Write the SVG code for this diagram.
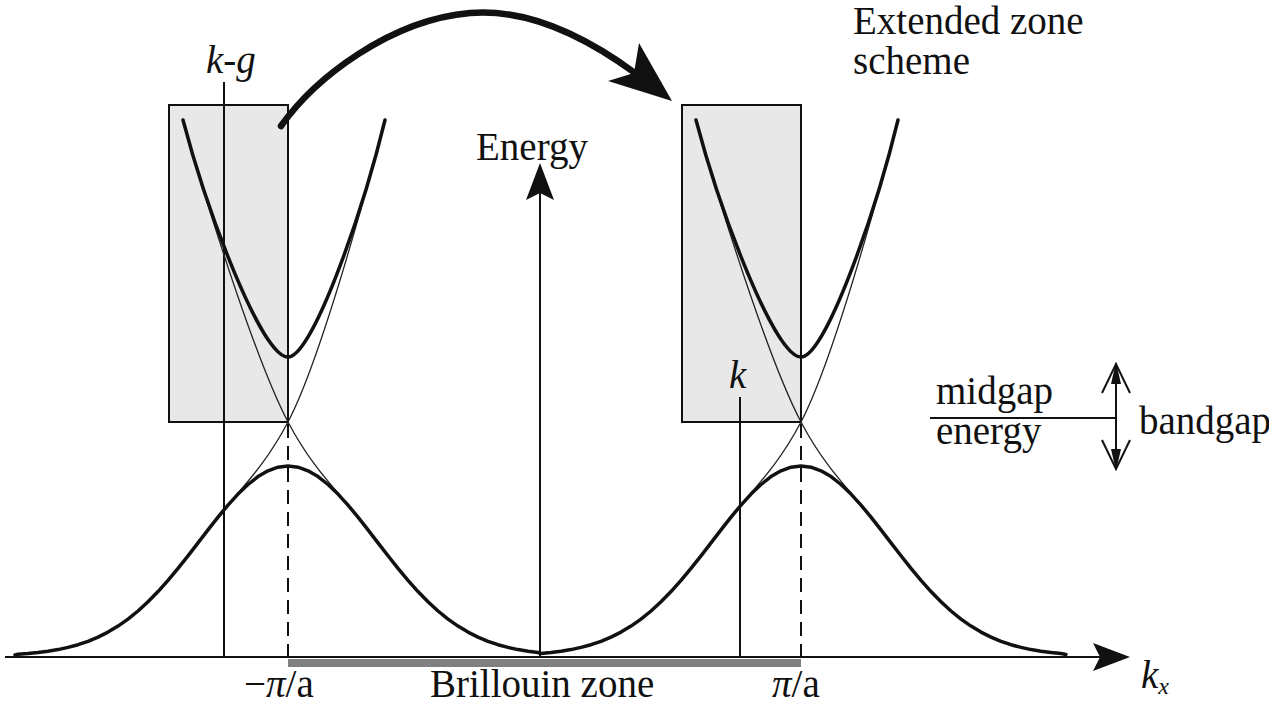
<svg xmlns="http://www.w3.org/2000/svg" width="1269" height="707" viewBox="0 0 1269 707">
<style>
  text { font-family: "Liberation Serif", "Times New Roman", serif; font-size: 39px; fill: #111; }
  .it { font-style: italic; }
  .box { fill: #e8e8e8; stroke: #111; stroke-width: 2; }
  .ln { stroke: #111; stroke-width: 2; fill: none; }
  .dash { stroke: #111; stroke-width: 2; fill: none; stroke-dasharray: 14 8; }
  .thick { stroke: #111; stroke-width: 3.5; fill: none; stroke-linejoin: round; stroke-linecap: round; }
  .thin { stroke: #222; stroke-width: 1.3; fill: none; }
  .head { fill: #111; stroke: none; }
</style>
<rect width="1269" height="707" fill="#fff"/>

<g id="zone-boxes">
  <rect id="box-left" class="box" x="169" y="105" width="119" height="317"/>
  <rect id="box-right" class="box" x="682" y="105" width="119" height="317"/>
</g>

<g id="brillouin-bar">
  <rect x="288" y="659" width="513" height="8" fill="#808080"/>
</g>

<g id="guides">
  <line class="ln" x1="224" y1="82" x2="224" y2="657"/>
  <line class="ln" x1="740" y1="397" x2="740" y2="657"/>
  <line class="dash" x1="288" y1="424" x2="288" y2="657"/>
  <line class="dash" x1="801" y1="424" x2="801" y2="657"/>
</g>

<g id="bands">
  <path class="thin" d="M222,512 C244,485.3 266,463.8 288,422 C318,365 355.4,230.7 377.4,149.7"/>
  <path class="thin" d="M354,512 C332,485.3 310,463.8 288,422 C258,365 215.5,231.7 191.3,149.7"/>
  <path class="thin" d="M735,512 C757,485.3 779,463.8 801,422 C831,365 868.4,230.7 890.4,149.7"/>
  <path class="thin" d="M867,512 C845,485.3 823,463.8 801,422 C771,365 728.5,231.7 704.3,149.7"/>
  <path class="thick" d="M183,120 C208,215 262,357 288,357 C312,357 362,215 385,120"/>
  <path class="thick" d="M696,120 C721,215 775,357 801,357 C825,357 875,215 898,120"/>
  <path class="thick" d="M15,655 L18,654.2 L28,653.5 L38,652.5 L48,651.2 L58,649.6 L68,647.4 L78,644.7 L88,641.3 L98,637.1 L108,632.1 L118,626.1 L128,619.1 L138,611 L148,601.8 L158,591.6 L168,580.4 L178,568.4 L188,555.8 L198,542.9 L208,529.9 L218,517.1 L228,505.1 L238,494.1 L248,484.5 L258,476.6 L268,470.8 L278,467.2 L288,466 L298,467.2 L308,470.8 L318,476.6 L328,484.5 L338,494.1 L348,505.1 L358,517.1 L368,529.9 L378,542.9 L388,555.8 L398,568.4 L408,580.4 L418,591.6 L428,601.8 L438,611 L448,619.1 L458,626.1 L468,632.1 L478,637.1 L488,641.3 L498,644.7 L508,647.4 L518,649.6 L528,651.2 L538,652.5 L541,653.5 L551,652.5 L561,651.2 L571,649.6 L581,647.4 L591,644.7 L601,641.3 L611,637.1 L621,632.1 L631,626.1 L641,619.1 L651,611 L661,601.8 L671,591.6 L681,580.4 L691,568.4 L701,555.8 L711,542.9 L721,529.9 L731,517.1 L741,505.1 L751,494.1 L761,484.5 L771,476.6 L781,470.8 L791,467.2 L801,466 L811,467.2 L821,470.8 L831,476.6 L841,484.5 L851,494.1 L861,505.1 L871,517.1 L881,529.9 L891,542.9 L901,555.8 L911,568.4 L921,580.4 L931,591.6 L941,601.8 L951,611 L961,619.1 L971,626.1 L981,632.1 L991,637.1 L1001,641.3 L1011,644.7 L1021,647.4 L1031,649.6 L1041,651.2 L1051,652.5 L1061,653.5 L1066,654.5"/>
</g>

<g id="connectors">
  <g id="kx-axis">
    <line class="ln" x1="5" y1="657" x2="1102" y2="657"/>
    <path class="head" d="M1130,657 L1093,643 L1100,657 L1093,671 Z"/>
  </g>
  <g id="energy-axis">
    <line class="ln" x1="540" y1="657" x2="540" y2="190"/>
    <path class="head" d="M540,163 L526,200 L540,193 L554,200 Z"/>
  </g>
  <g id="shift-arrow">
    <path d="M281,126 C315,78 390,20 470,13 C530,8 590,40 635,73" fill="none" stroke="#111" stroke-width="6.5" stroke-linecap="round"/>
    <path class="head" d="M672,101 L639,43 L634,73 L608,81 Z"/>
  </g>
  <g id="bandgap-arrow">
    <line class="ln" x1="930" y1="418" x2="1116" y2="418"/>
    <line class="ln" x1="1116" y1="366" x2="1116" y2="467"/>
    <path class="ln" d="M1102,393 L1116,364 L1130,393"/>
    <path class="ln" d="M1102,440 L1116,469 L1130,440"/>
    <path class="head" d="M1116,362 L1111,384 L1121,384 Z"/>
    <path class="head" d="M1116,471 L1111,449 L1121,449 Z"/>
  </g>
</g>

<g id="labels">
  <text x="853" y="34">Extended zone</text>
  <text x="853" y="74">scheme</text>
  <text x="476" y="160">Energy</text>
  <text x="206" y="73" class="it">k-g</text>
  <text x="729" y="388" class="it">k</text>
  <text x="936" y="404">midgap</text>
  <text x="936" y="444">energy</text>
  <text x="1139" y="434">bandgap</text>
  <text x="430" y="697">Brillouin zone</text>
  <text x="244" y="697">−<tspan class="it">π</tspan>/a</text>
  <text x="772" y="697"><tspan class="it">π</tspan>/a</text>
  <text x="1141" y="688" class="it">k<tspan font-size="24" dy="6">x</tspan></text>
</g>
</svg>
